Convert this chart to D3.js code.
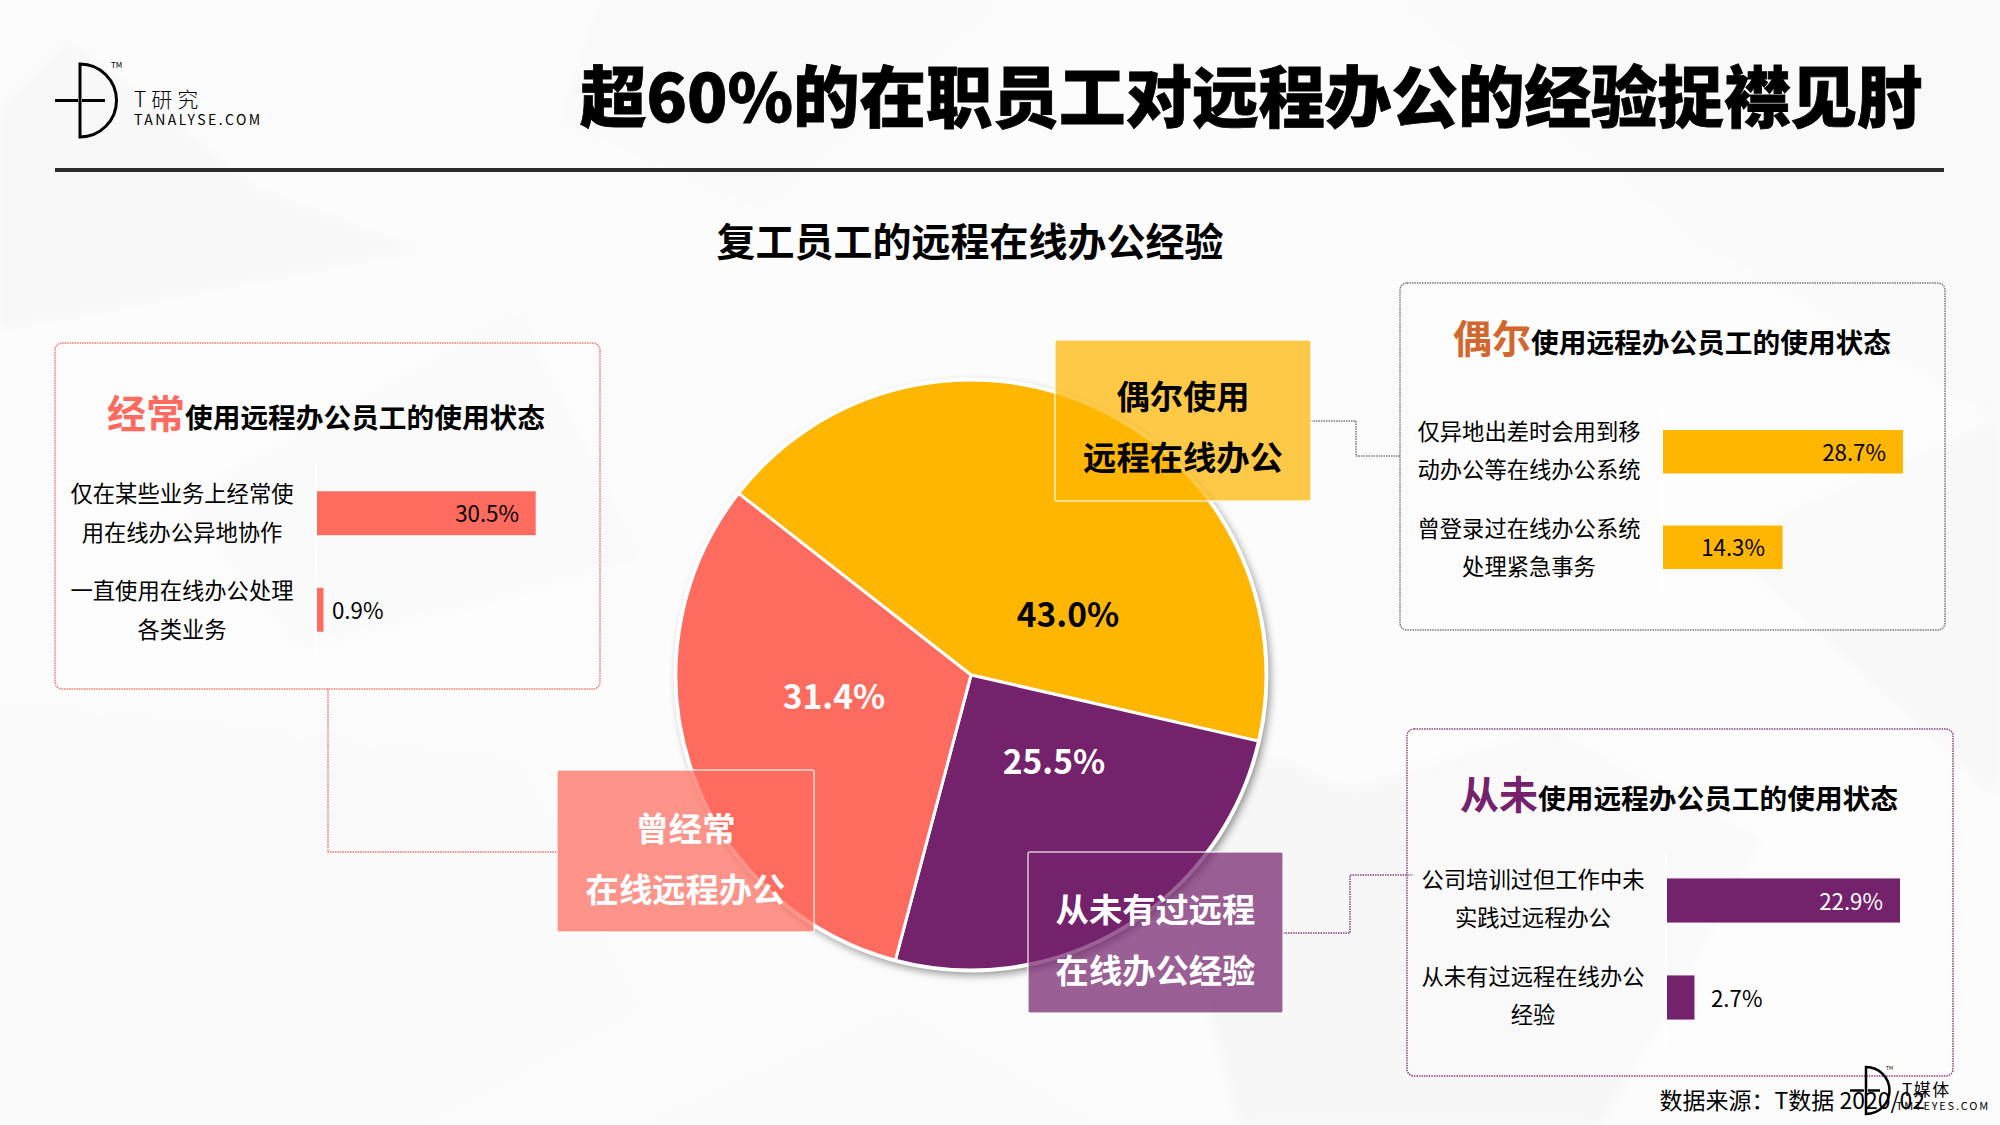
<!DOCTYPE html>
<html lang="zh"><head><meta charset="utf-8">
<script src="https://cdn.jsdelivr.net/npm/d3@7"></script>
<style>
html,body{margin:0;padding:0;background:#fcfcfc}
svg{display:block}
text{font-family:"Noto Sans CJK SC","Noto Sans",sans-serif;fill:#000}
</style></head><body>
<svg id="c" width="2000" height="1125"></svg>
<script>
// ---- data ----
const pieCategories = ["偶尔使用", "从未有过", "曾经常"];
const pieValues = [43.0, 25.5, 31.4];
const pieValueLabels = ["43.0%", "25.5%", "31.4%"];
const pieColors = ["#FFB600", "#74226C", "#FF6B5E"];
const pieLabelColors = ["#000", "#fff", "#fff"];

const oftenLabels = [["仅在某些业务上经常使", "用在线办公异地协作"], ["一直使用在线办公处理", "各类业务"]];
const oftenValues = [30.5, 0.9];
const sometimesLabels = [["仅异地出差时会用到移", "动办公等在线办公系统"], ["曾登录过在线办公系统", "处理紧急事务"]];
const sometimesValues = [28.7, 14.3];
const neverLabels = [["公司培训过但工作中未", "实践过远程办公"], ["从未有过远程在线办公", "经验"]];
const neverValues = [22.9, 2.7];

const titleText = "超60%的在职员工对远程办公的经验捉襟见肘";
const subtitleText = "复工员工的远程在线办公经验";
const headingRest = "使用远程办公员工的使用状态";
const sourceText = "数据来源：T数据 2020/02";

// ---- layout ----
const svg = d3.select("#c");
const defs = svg.append("defs");
const f = defs.append("filter").attr("id","sh").attr("x","-10%").attr("y","-10%").attr("width","125%").attr("height","125%");
f.append("feDropShadow").attr("dx",3).attr("dy",4).attr("stdDeviation",4).attr("flood-color","#000").attr("flood-opacity",.45);
defs.append("filter").attr("id","soft").attr("x","-10%").attr("y","-10%").attr("width","120%").attr("height","120%")
  .append("feGaussianBlur").attr("stdDeviation",6);

// faint background facets
const facets = [
 ["#f8f8f8","0,110 70,40 260,190 420,250 0,330"],
 ["#f9f9f9","600,0 1000,0 760,210 560,120"],
 ["#f9f9f9","180,500 520,310 640,560 300,650"],
 ["#fafafa","0,700 520,760 640,1010 420,1125 0,1125"],
 ["#f7f7f7","1000,640 1350,790 1550,730 1760,840 1600,1125 1240,1125 1180,900"],
 ["#f9f9f9","1400,0 2000,0 2000,420 1700,240"],
 ["#fafafa","640,1125 900,1010 1100,1125"],
 ["#f8f8f8","1720,540 2000,420 2000,800"]
];
svg.append("g").attr("filter","url(#soft)").selectAll("polygon").data(facets).join("polygon").attr("points",d=>d[1]).attr("fill",d=>d[0]);

function logo(g, x, yTop, r, lw, hx0, hx1){
  const yc = yTop + r;
  g.append("path").attr("d",`M${x},${yTop}A${r},${r} 0 0 1 ${x},${yTop+2*r}Z`)
    .attr("fill","none").attr("stroke","#000").attr("stroke-width",lw);
  g.append("line").attr("x1",hx0).attr("x2",x-2).attr("y1",yc).attr("y2",yc).attr("stroke","#000").attr("stroke-width",lw);
  g.append("line").attr("x1",x+2).attr("x2",hx1).attr("y1",yc).attr("y2",yc).attr("stroke","#000").attr("stroke-width",lw);
}
const lg = svg.append("g");
logo(lg,80,64,36.5,3,55,105);
lg.append("text").attr("x",111).attr("y",68).attr("font-size",8).attr("fill","#555").text("TM");
lg.append("text").attr("x",134).attr("y",107).attr("font-size",21).attr("font-weight",300).attr("letter-spacing",5).text("T研究");
lg.append("text").attr("x",134).attr("y",125).attr("font-size",14).attr("letter-spacing",2.45).attr("fill","#222").text("TANALYSE.COM");

// title, rule, subtitle
svg.append("text").attr("x",580).attr("y",122).attr("font-size",66.5).attr("font-weight",900).attr("stroke","#000").attr("stroke-width",.8).text(titleText);
svg.append("line").attr("x1",55).attr("x2",1944).attr("y1",170).attr("y2",170).attr("stroke","#2b2b2b").attr("stroke-width",4);
svg.append("text").attr("x",970).attr("y",256).attr("text-anchor","middle").attr("font-size",39).attr("font-weight",700).text(subtitleText);

// connectors
const connectorLine = d3.line();
const connectors = [
 {c:"#F4756B", p:[[328,689],[328,852],[557,852]]},
 {c:"#777", p:[[1311,421],[1356,421],[1356,456],[1400,456]]},
 {c:"#8E3F88", p:[[1283,933],[1350,933],[1350,875],[1413,875]]}
];
svg.append("g").selectAll("path").data(connectors).join("path").attr("d",d=>connectorLine(d.p))
  .attr("fill","none").attr("stroke",d=>d.c).attr("stroke-width",1.5).attr("stroke-dasharray","1.5 1");

// pie
const cx=971, cy=675, R=295;
const pie = d3.pie().sort(null).startAngle(-52*Math.PI/180).endAngle(308*Math.PI/180);
const arc = d3.arc().innerRadius(0).outerRadius(R);
const arcs = pie(pieValues);
const pg = svg.append("g").attr("transform",`translate(${cx},${cy})`);
pg.append("circle").attr("r",R+1).attr("fill","#fff").attr("filter","url(#sh)");
pg.selectAll("path").data(arcs).join("path").attr("d",arc).attr("fill",(d,i)=>pieColors[i]).attr("stroke","#fff").attr("stroke-width",3).attr("stroke-linejoin","round");
pg.append("circle").attr("r",R+1).attr("fill","none").attr("stroke","#fff").attr("stroke-width",3);
const pieLabelOffset = [[97,-60],[83,87],[-137,22]];
pg.selectAll("text").data(arcs).join("text")
  .attr("x",(d,i)=>pieLabelOffset[i][0]).attr("y",(d,i)=>pieLabelOffset[i][1]+12)
  .attr("text-anchor","middle").attr("font-size",33.5).attr("font-weight",700)
  .style("fill",(d,i)=>pieLabelColors[i]).text((d,i)=>pieValueLabels[i]);

// callouts
const callouts = [
 {x:1055,y:340,w:256,h:161,fill:"rgba(255,182,0,.72)",tc:"#000",lines:["偶尔使用","远程在线办公"],ys:[409,470]},
 {x:1028,y:852,w:255,h:161,fill:"rgba(116,34,108,.72)",tc:"#fff",lines:["从未有过远程","在线办公经验"],ys:[922,983]},
 {x:557,y:770,w:257,h:162,fill:"rgba(255,107,94,.72)",tc:"#fff",lines:["曾经常","在线远程办公"],ys:[841,902]}
];
const cg = svg.append("g").selectAll("g").data(callouts).join("g");
cg.append("rect").attr("x",d=>d.x).attr("y",d=>d.y).attr("width",d=>d.w).attr("height",d=>d.h).attr("rx",2)
  .attr("fill",d=>d.fill).attr("stroke","#fff").attr("stroke-opacity",.75).attr("stroke-width",1.5);
cg.each(function(d){
  d.lines.forEach((t,i)=>d3.select(this).append("text").attr("x",d.x+d.w/2).attr("y",d.ys[i]).attr("text-anchor","middle")
    .attr("font-size",33.3).attr("font-weight",700).style("fill",d.tc).text(t));
});

// panels
const panels = [
 {box:[55,343,545,346],stroke:"#F4756B",head:"经常",headColor:"#FF6B5E",headX:107,restBase:428,
  labels:oftenLabels,values:oftenValues,color:"#FF6B5E",x0:317,width:218.7,band:[465,658],labelX:182,labelYs:[[502,541],[599,638]],
  valueX:[519,332],valueColor:["#000","#000"]},
 {box:[1400,283,545,347],stroke:"#777",head:"偶尔",headColor:"#D2672D",headX:1453,restBase:353,
  labels:sometimesLabels,values:sometimesValues,color:"#FFB600",x0:1663,width:240,band:[404,595],labelX:1529,labelYs:[[440,478],[537,575]],
  valueX:[1886,1765],valueColor:["#000","#000"]},
 {box:[1407,729,546,347],stroke:"#8E3F88",head:"从未",headColor:"#74226C",headX:1460,restBase:809,
  labels:neverLabels,values:neverValues,color:"#74226C",x0:1667,width:233,band:[852,1046],labelX:1533,labelYs:[[888,926],[985,1023]],
  valueX:[1883,1711],valueColor:["#fff","#000"]}
];
panels.forEach(p=>{
  const g = svg.append("g");
  g.append("rect").attr("x",p.box[0]).attr("y",p.box[1]).attr("width",p.box[2]).attr("height",p.box[3]).attr("rx",7)
    .attr("fill","#fff").attr("fill-opacity",.25).attr("stroke",p.stroke).attr("stroke-width",1.5).attr("stroke-dasharray","1.5 1");
  const h = g.append("text").attr("x",p.headX).attr("y",p.restBase).attr("font-weight",700).attr("font-size",27.7);
  h.append("tspan").attr("font-size",39).style("fill",p.headColor).text(p.head);
  h.append("tspan").text(headingRest);
  const x = d3.scaleLinear().domain([0,d3.max(p.values)]).range([0,p.width]);
  const y = d3.scaleBand().domain(d3.range(p.values.length)).range(p.band).paddingInner(.545).paddingOuter(.2725);
  g.append("line").attr("x1",p.x0-1).attr("x2",p.x0-1).attr("y1",p.band[0]).attr("y2",p.band[1]).attr("stroke","#fff").attr("stroke-width",1.5);
  g.selectAll("rect.b").data(p.values).join("rect").attr("class","b")
    .attr("x",p.x0).attr("y",(d,i)=>y(i)).attr("width",d=>x(d)).attr("height",y.bandwidth()).attr("fill",p.color);
  p.values.forEach((v,i)=>{
    const inside = x(v) > 100;
    g.append("text").attr("x",p.valueX[i]).attr("y",y(i)+y.bandwidth()/2+9).attr("font-size",22.3)
      .attr("text-anchor",inside?"end":"start").style("fill",p.valueColor[i]).text(v.toFixed(1)+"%");
    p.labels[i].forEach((t,j)=>g.append("text").attr("x",p.labelX).attr("y",p.labelYs[i][j]).attr("text-anchor","middle").attr("font-size",22.3).text(t));
  });
});

// footer logo & source
const lb = svg.append("g");
logo(lb,1866,1067,23.5,2.5,1850,1880);
lb.append("text").attr("x",1886).attr("y",1070).attr("font-size",5).attr("fill","#555").text("TM");
lb.append("text").attr("x",1902).attr("y",1096).attr("font-size",17).attr("letter-spacing",1.5).text("T媒体");
lb.append("text").attr("x",1990).attr("y",1110).attr("text-anchor","end").attr("font-size",11).attr("letter-spacing",1.8).attr("fill","#222").text("TMTEYES.COM");
svg.append("text").attr("x",1925).attr("y",1109).attr("text-anchor","end").attr("font-size",23).text(sourceText);
</script>
</body></html>
